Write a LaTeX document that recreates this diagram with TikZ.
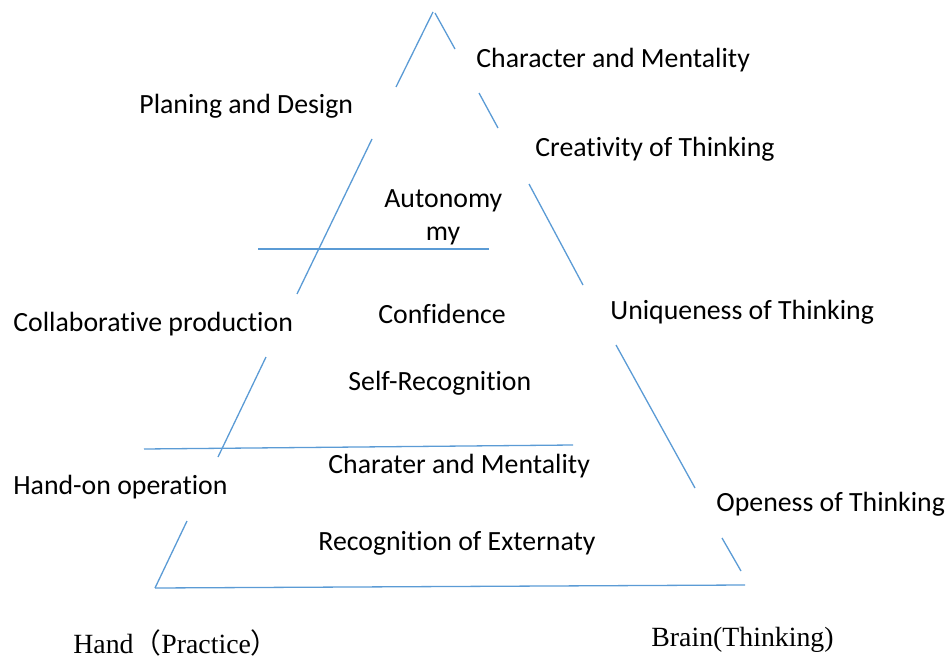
\documentclass[tikz,border=0pt]{standalone}
\usepackage{fontspec}
\setmainfont{Carlito}[Ligatures=NoCommon]
\newfontfamily\timesfont{Liberation Serif}
\newfontfamily\cjkfont{Noto Sans CJK SC}
\usepackage{xcolor}
\definecolor{pyramidblue}{RGB}{91, 155, 213}
\definecolor{pyramidtext}{RGB}{0, 0, 0}

\tikzset{
  side/.style={draw=pyramidblue, line width=0.65pt},
  label/.style={inner sep=0pt, anchor=base west, text=pyramidtext, font=\fontsize{13.9}{16}\selectfont},
  corner/.style={inner sep=0pt, anchor=base west, font=\fontsize{13.9}{16}\selectfont\timesfont}
}

\begin{document}
\begin{tikzpicture}[x=0.5pt, y=-0.5pt]
\useasboundingbox (0,0) rectangle (948,658);

\draw[side] (396,87) -- (433,12);
\draw[side] (435,13) -- (455,49);
\draw[side] (479,93) -- (498,128);
\draw[side] (529,184) -- (583,285);
\draw[side] (616,345) -- (695,488);
\draw[side] (722,538) -- (741,571);
\draw[side] (372,139) -- (297,294);
\draw[side] (266,357) -- (218,457);
\draw[side] (187,521) -- (155,588);
\draw[side] (155,588) -- (745,585);
\draw[side] (258,249) -- (489,249);
\draw[side] (144,449) -- (573,445);

\node[label] (charTop) at (476,68) {Character and Mentality};
\node[label] (planing) at (139,114) {Planing and Design};
\node[label] (creativity) at (535,156) {Creativity of Thinking};
\node[label] (autonomy) at (384,207) {Autonomy};
\node[label, anchor=base] (autonomyMy) at (443,241) {my};
\node[label] (collab) at (13,331) {Collaborative production};
\node[label] (confidence) at (378,323) {Confidence};
\node[label] (uniqueness) at (610,319) {Uniqueness of Thinking};
\node[label] (selfRec) at (348,390) {Self-Recognition};
\node[label] (charLow) at (328,473) {Charater and Mentality};
\node[label] (handOn) at (13,494) {Hand-on operation};
\node[label] (openess) at (716,511) {Openess of Thinking};
\node[label] (externaty) at (318,550) {Recognition of Externaty};
\node[corner] (hand) at (73,653) {Hand{\cjkfont （}Practice{\cjkfont ）}};
\node[corner] (brain) at (651,646) {Brain(Thinking)};
\end{tikzpicture}
\end{document}
